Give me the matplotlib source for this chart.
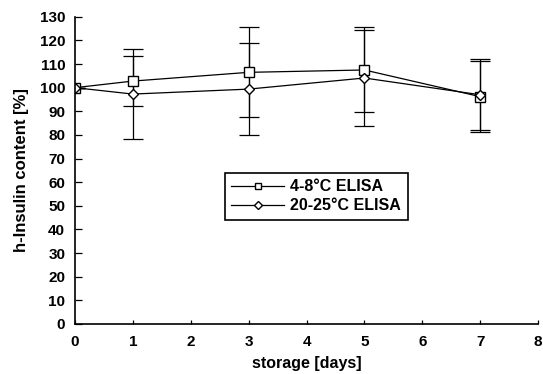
import numpy as np
import matplotlib.pyplot as plt
from matplotlib.lines import Line2D

plt.rcParams['font.family'] = ['Liberation Sans', 'DejaVu Sans']
plt.rcParams['font.weight'] = 'bold'

# storage days
days = [0, 1, 3, 5, 7]

# 4-8°C ELISA
cold_mean = [100, 102.8, 106.5, 107.5, 96.2]
cold_err = [0, 10.5, 19, 18, 15]

# 20-25°C ELISA
warm_mean = [100, 97.3, 99.4, 104.1, 97]
warm_err = [0, 19, 19.5, 20.5, 15]

fig = plt.figure(figsize=(5.43, 3.74), dpi=100)
ax = fig.add_axes([0.138, 0.134, 0.853, 0.821])

ax.errorbar(days, cold_mean, yerr=cold_err, color='black', marker='s',
            mfc='white', mec='black', ms=6.5, lw=0.9, capsize=7,
            elinewidth=0.9, capthick=0.9)
ax.errorbar(days, warm_mean, yerr=warm_err, color='black', marker='D',
            mfc='white', mec='black', ms=5.5, lw=0.9, capsize=7,
            elinewidth=0.9, capthick=0.9)

ax.set_xlim(0, 8)
ax.set_ylim(0, 130)
ax.set_xticks(range(0, 9))
ax.set_yticks(range(0, 131, 10))
ax.tick_params(axis='y', direction='in', length=5, width=0.9, labelsize=11, pad=7)
ax.tick_params(axis='x', direction='in', length=3, width=0.9, labelsize=11, pad=8)
ax.spines['top'].set_visible(False)
ax.spines['right'].set_visible(False)
for s in ['left', 'bottom']:
    ax.spines[s].set_linewidth(1.2)

ax.set_xlabel('storage [days]', fontsize=11.5, fontweight='bold', labelpad=5)
ax.set_ylabel('h-Insulin content [%]', fontsize=12, fontweight='bold', labelpad=8)

handles = [
    Line2D([], [], color='black', lw=0.9, marker='s', mfc='white', mec='black', ms=5),
    Line2D([], [], color='black', lw=0.9, marker='D', mfc='white', mec='black', ms=4.5),
]
leg = ax.legend(handles, ['4-8°C ELISA', '20-25°C ELISA'], loc='upper left',
                bbox_to_anchor=(0.324, 0.492), fancybox=False,
                edgecolor='black', framealpha=1, fontsize=11.5, handlelength=3.3,
                borderpad=0.4, labelspacing=0.25, handletextpad=0.4,
                borderaxespad=0)
leg.get_frame().set_linewidth(1.2)

fig.savefig('out.png', dpi=100)
